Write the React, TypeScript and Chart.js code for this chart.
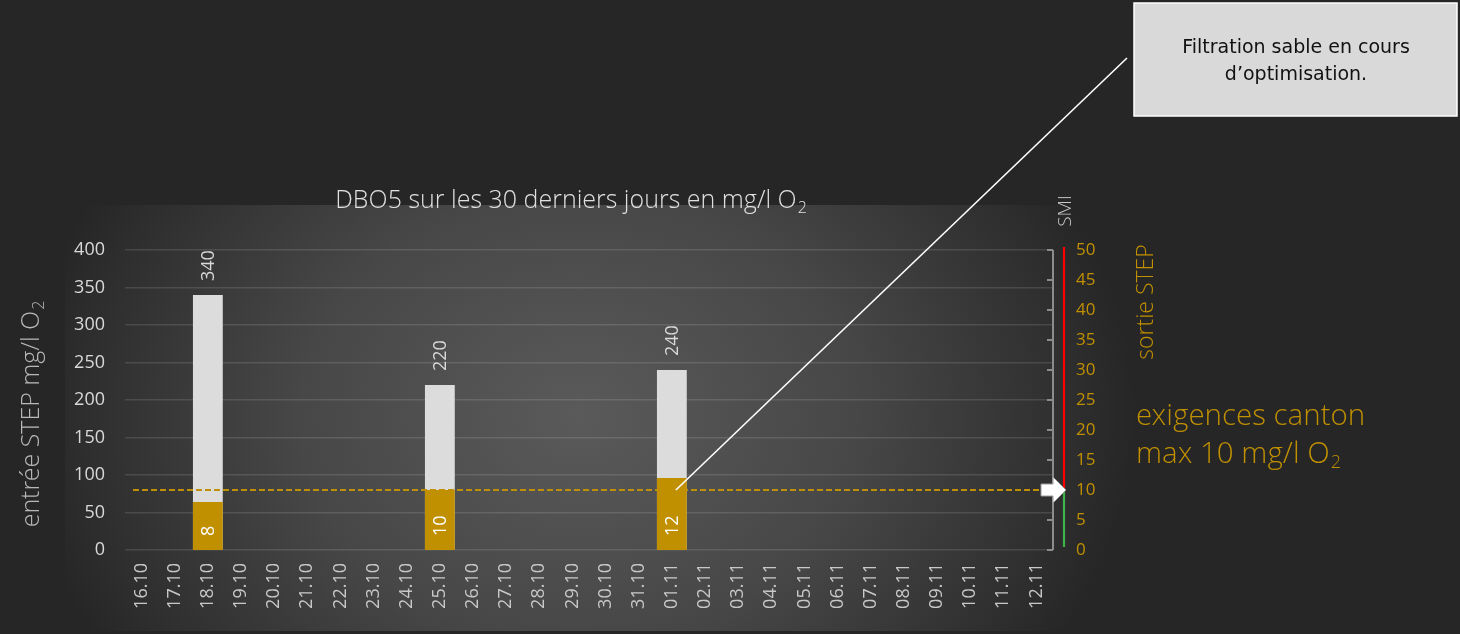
import React, { useEffect, useRef } from "react";
import { Chart, registerables } from "chart.js";

Chart.register(...registerables);

const dates = [
  "16.10", "17.10", "18.10", "19.10", "20.10", "21.10", "22.10", "23.10",
  "24.10", "25.10", "26.10", "27.10", "28.10", "29.10", "30.10", "31.10",
  "01.11", "02.11", "03.11", "04.11", "05.11", "06.11", "07.11", "08.11",
  "09.11", "10.11", "11.11", "12.11",
];
const entreeSTEP = [
  null, null, 340, null, null, null, null, null,
  null, 220, null, null, null, null, null, null,
  240, null, null, null, null, null, null, null,
  null, null, null, null,
];
const sortieSTEP = [
  null, null, 8, null, null, null, null, null,
  null, 10, null, null, null, null, null, null,
  12, null, null, null, null, null, null, null,
  null, null, null, null,
];
const limiteCanton = 10;
const axeEntreeMax = 400;
const axeEntreeStep = 50;
const axeSortieMax = 50;
const axeSortieStep = 5;
const dateAnnotation = "01.11";

const W = 1460;
const H = 634;
const GOLD = "#c09000";
const LIGHT = "'Open Sans Light', 'Open Sans', 'Lato', sans-serif";

function textWithSub(
  ctx: CanvasRenderingContext2D,
  main: string,
  sub: string,
  x: number,
  y: number,
  size: number,
  align: "left" | "center"
) {
  ctx.font = `300 ${size}px ${LIGHT}`;
  const wMain = ctx.measureText(main).width;
  const subSize = Math.round(size * 0.62);
  ctx.font = `300 ${subSize}px ${LIGHT}`;
  const wSub = ctx.measureText(sub).width;
  const total = wMain + wSub + 1;
  const x0 = align === "center" ? x - total / 2 : x;
  ctx.textAlign = "left";
  ctx.textBaseline = "alphabetic";
  ctx.font = `300 ${size}px ${LIGHT}`;
  ctx.fillText(main, x0, y);
  ctx.font = `300 ${subSize}px ${LIGHT}`;
  ctx.fillText(sub, x0 + wMain + 1, y + size * 0.18);
}

const decorPlugin = {
  id: "decor",
  beforeDraw(chart: any) {
    const ctx: CanvasRenderingContext2D = chart.ctx;
    ctx.save();
    ctx.fillStyle = "#262626";
    ctx.fillRect(0, 0, W, H);
    ctx.beginPath();
    ctx.rect(65, 205, 1100, 426);
    ctx.clip();
    ctx.translate(578, 415);
    ctx.scale(1, 0.8);
    const g = ctx.createRadialGradient(0, 0, 0, 0, 0, 620);
    g.addColorStop(0, "#5a5a5a");
    g.addColorStop(0.45, "#474747");
    g.addColorStop(0.8, "#2e2e2e");
    g.addColorStop(0.9, "#262626");
    g.addColorStop(1, "#262626");
    ctx.fillStyle = g;
    ctx.fillRect(-700, -700, 1800, 1400);
    ctx.restore();
  },
  afterDatasetsDraw(chart: any) {
    const ctx: CanvasRenderingContext2D = chart.ctx;
    const area = chart.chartArea;
    const xs = chart.scales.x;
    const y1 = chart.scales.y1;
    ctx.save();

    // data labels
    chart.data.datasets.forEach((ds: any, i: number) => {
      const meta = chart.getDatasetMeta(i);
      meta.data.forEach((el: any, j: number) => {
        const v = ds.data[j];
        if (v == null) return;
        ctx.save();
        const isOut = ds.yAxisID === "y1";
        const px = el.x;
        const py = isOut ? el.base - 14 : el.y - 14;
        ctx.translate(px, py);
        ctx.rotate(-Math.PI / 2);
        ctx.font = `400 18px 'Open Sans', sans-serif`;
        ctx.fillStyle = isOut ? "#ffffff" : "#d9d9d9";
        ctx.textAlign = "left";
        ctx.textBaseline = "middle";
        ctx.fillText(String(v), 0, 1);
        ctx.restore();
      });
    });

    // limit dashed line
    const yLim = y1.getPixelForValue(limiteCanton);
    ctx.strokeStyle = GOLD;
    ctx.lineWidth = 1.8;
    ctx.setLineDash([6, 3]);
    ctx.beginPath();
    ctx.moveTo(area.left + 8, yLim);
    ctx.lineTo(area.right - 13, yLim);
    ctx.stroke();
    ctx.setLineDash([]);

    // right axis line with inner ticks
    const ax = area.right;
    const yTop = y1.getPixelForValue(axeSortieMax);
    const yBot = y1.getPixelForValue(0);
    ctx.strokeStyle = "#8c8c8c";
    ctx.lineWidth = 2;
    ctx.beginPath();
    ctx.moveTo(ax, yTop);
    ctx.lineTo(ax, yBot);
    for (let v = 0; v <= axeSortieMax; v += axeSortieStep) {
      const yy = y1.getPixelForValue(v);
      ctx.moveTo(ax - 6, yy);
      ctx.lineTo(ax, yy);
    }
    ctx.stroke();

    // SMI colour bar
    const sx = ax + 11;
    ctx.lineWidth = 2.2;
    ctx.strokeStyle = "#ff0000";
    ctx.beginPath();
    ctx.moveTo(sx, yTop - 3);
    ctx.lineTo(sx, yLim);
    ctx.stroke();
    ctx.strokeStyle = "#3db54a";
    ctx.beginPath();
    ctx.moveTo(sx, yLim);
    ctx.lineTo(sx, yBot - 3);
    ctx.stroke();

    // arrow
    const tip = ax + 13;
    ctx.beginPath();
    ctx.moveTo(ax - 12, yLim - 6);
    ctx.lineTo(ax, yLim - 6);
    ctx.lineTo(ax, yLim - 13);
    ctx.lineTo(tip, yLim);
    ctx.lineTo(ax, yLim + 13);
    ctx.lineTo(ax, yLim + 6);
    ctx.lineTo(ax - 12, yLim + 6);
    ctx.closePath();
    ctx.fillStyle = "#ffffff";
    ctx.fill();
    ctx.strokeStyle = "#9a9a9a";
    ctx.lineWidth = 1;
    ctx.stroke();

    // callout line
    const idx = dates.indexOf(dateAnnotation);
    const cx = xs.getPixelForValue(idx) + 4;
    ctx.strokeStyle = "#ffffff";
    ctx.lineWidth = 1.6;
    ctx.beginPath();
    ctx.moveTo(cx, yLim);
    ctx.lineTo(1127, 58);
    ctx.stroke();

    // annotation box
    ctx.fillStyle = "#d9d9d9";
    ctx.fillRect(1134, 3, 323, 113);
    ctx.strokeStyle = "#ffffff";
    ctx.lineWidth = 1.5;
    ctx.strokeRect(1134, 3, 323, 113);
    ctx.fillStyle = "#111111";
    ctx.font = `400 19px 'DejaVu Sans', sans-serif`;
    ctx.textAlign = "center";
    ctx.textBaseline = "middle";
    ctx.fillText("Filtration sable en cours", 1296, 48);
    ctx.fillText("d\u2019optimisation.", 1296, 75);

    // title
    ctx.fillStyle = "#e0e0e0";
    textWithSub(ctx, "DBO5 sur les 30 derniers jours en mg/l O", "2", 571, 208, 25, "center");

    // left axis title
    ctx.save();
    ctx.translate(39, 414);
    ctx.rotate(-Math.PI / 2);
    ctx.fillStyle = "#b8b8b8";
    textWithSub(ctx, "entr\u00e9e STEP mg/l O", "2", 0, 0, 25, "center");
    ctx.restore();

    // SMI
    ctx.save();
    ctx.translate(1071, 211);
    ctx.rotate(-Math.PI / 2);
    ctx.fillStyle = "#c8c8c8";
    ctx.font = `300 19px ${LIGHT}`;
    ctx.textAlign = "center";
    ctx.textBaseline = "alphabetic";
    ctx.fillText("SMI", 0, 0);
    ctx.restore();

    // sortie STEP
    ctx.save();
    ctx.translate(1153, 302);
    ctx.rotate(-Math.PI / 2);
    ctx.fillStyle = GOLD;
    ctx.font = `300 23px ${LIGHT}`;
    ctx.textAlign = "center";
    ctx.textBaseline = "alphabetic";
    ctx.fillText("sortie STEP", 0, 0);
    ctx.restore();

    // exigences canton
    ctx.fillStyle = GOLD;
    ctx.font = `300 29.5px ${LIGHT}`;
    ctx.textAlign = "left";
    ctx.textBaseline = "alphabetic";
    ctx.fillText("exigences canton", 1136, 425);
    textWithSub(ctx, `max ${limiteCanton} mg/l O`, "2", 1136, 463, 29.5, "left");

    ctx.restore();
  },
};

export default function App() {
  const ref = useRef<HTMLCanvasElement | null>(null);
  useEffect(() => {
    if (!ref.current) return;
    const chart = new Chart(ref.current, {
      type: "bar",
      data: {
        labels: dates,
        datasets: [
          {
            label: "sortie STEP",
            data: sortieSTEP,
            yAxisID: "y1",
            backgroundColor: GOLD,
            order: 0,
            grouped: false,
            barPercentage: 0.9,
            categoryPercentage: 1,
          } as any,
          {
            label: "entrée STEP",
            data: entreeSTEP,
            yAxisID: "y",
            backgroundColor: "#dcdcdc",
            order: 1,
            grouped: false,
            barPercentage: 0.9,
            categoryPercentage: 1,
          } as any,
        ],
      },
      options: {
        responsive: false,
        animation: false,
        layout: { padding: { left: 65, right: 357, top: 250, bottom: 14 } },
        plugins: {
          legend: { display: false },
          tooltip: { enabled: false },
          title: { display: false },
        },
        scales: {
          x: {
            grid: { display: false },
            border: { display: false },
            ticks: {
              color: "#c8c8c8",
              font: { family: "'Open Sans', sans-serif", size: 18 },
              minRotation: 90,
              maxRotation: 90,
              autoSkip: false,
              padding: 5,
            },
            afterFit: (s: any) => {
              s.height = 70;
            },
          },
          y: {
            position: "left",
            min: 0,
            max: axeEntreeMax,
            ticks: {
              stepSize: axeEntreeStep,
              color: "#d9d9d9",
              font: { family: "'Open Sans', sans-serif", size: 18 },
              padding: 20,
            },
            grid: { color: "rgba(255,255,255,0.12)", lineWidth: 1.5, drawTicks: false },
            border: { display: false },
            afterFit: (s: any) => {
              s.width = 60;
            },
          },
          y1: {
            position: "right",
            min: 0,
            max: axeSortieMax,
            ticks: {
              stepSize: axeSortieStep,
              color: GOLD,
              font: { family: "'Open Sans', sans-serif", size: 17 },
              padding: 15,
            },
            grid: { display: false },
            border: { display: false },
            afterFit: (s: any) => {
              s.width = 50;
            },
          },
        },
      } as any,
      plugins: [decorPlugin],
    });
    return () => chart.destroy();
  }, []);
  return (
    <div style={{ position: "fixed", left: 0, top: 0, width: W, height: H, background: "#262626" }}>
      <canvas ref={ref} width={W} height={H} style={{ display: "block" }} />
    </div>
  );
}
